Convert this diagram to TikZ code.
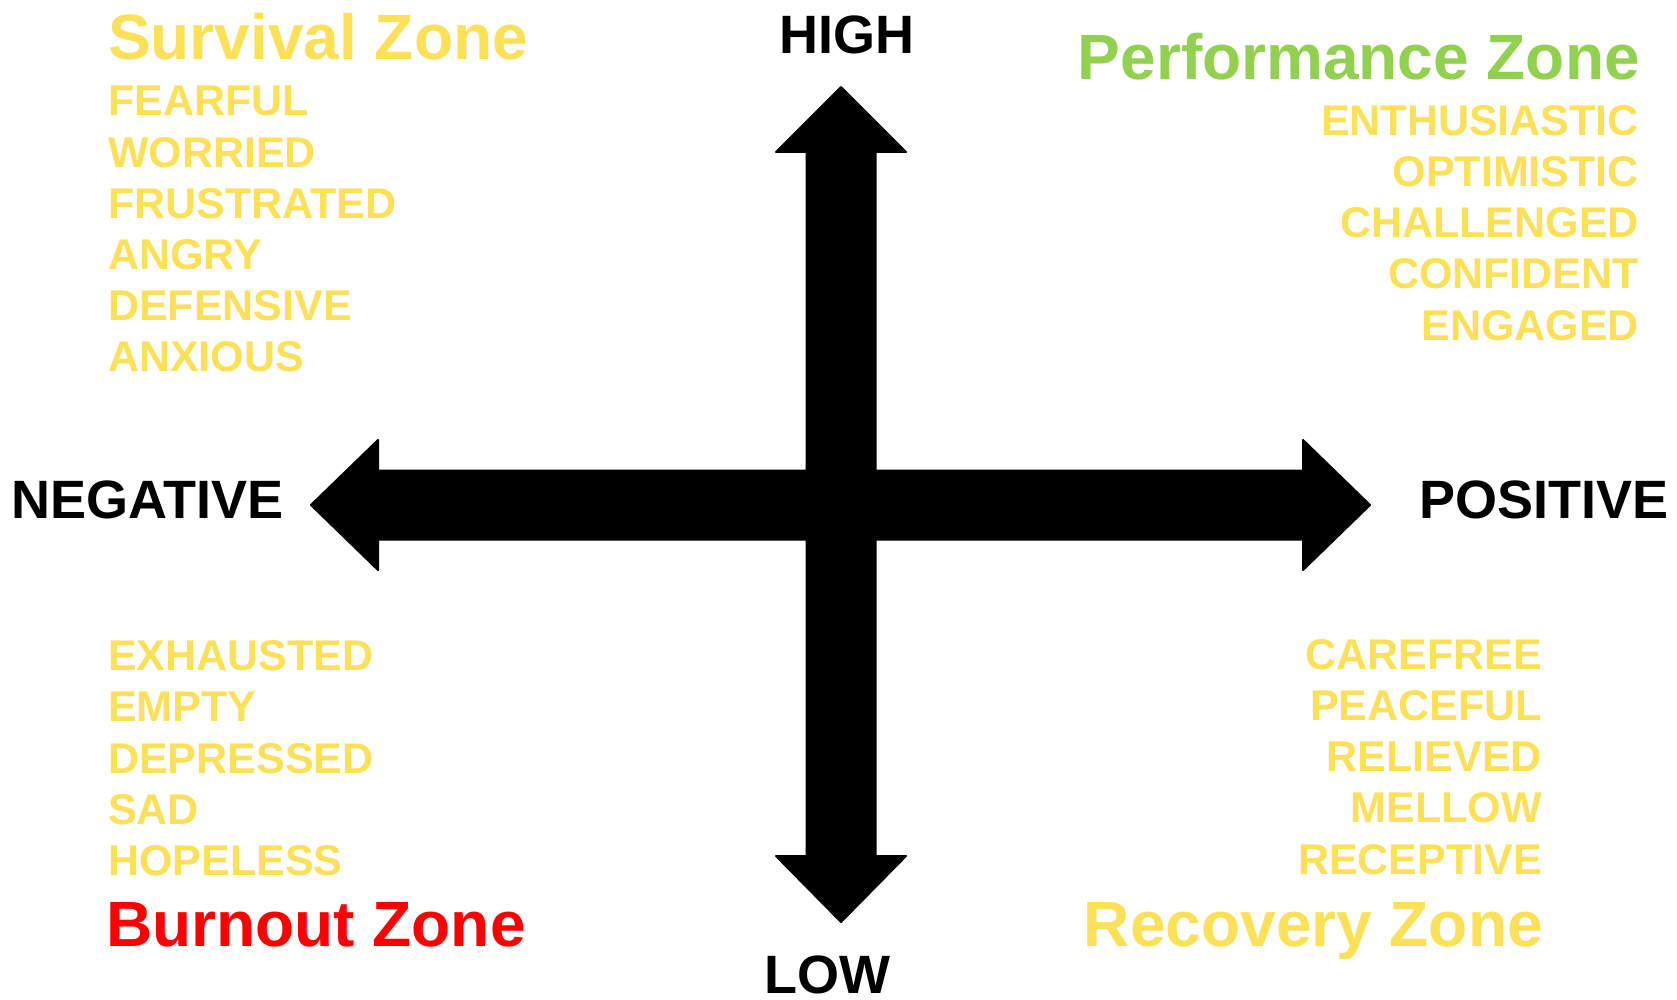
\documentclass[tikz,border=0pt]{standalone}
\usepackage{fontspec}
\setmainfont{Liberation Sans}
\definecolor{zyellow}{HTML}{FBE058}
\definecolor{zgreen}{HTML}{92D050}
\definecolor{zred}{HTML}{FF0000}
\tikzset{
  axislabel/.style={inner sep=0pt, font=\fontsize{54}{60}\selectfont\bfseries, text=black},
  word/.style={inner sep=0pt, font=\fontsize{43}{50}\selectfont\bfseries, text=zyellow},
  zone/.style={inner sep=0pt, font=\fontsize{64}{70}\selectfont\bfseries},
  cross/.style={fill=black, draw=black, line width=2pt, line join=round}
}
\begin{document}
\begin{tikzpicture}[x=1pt,y=-1pt]
\useasboundingbox (0,0) rectangle (1677,1000);
% cross of double arrows
\coordinate (ctr) at (841,505);
\draw[cross] (841,87) -- (906,152) -- (875.5,152) -- (875.5,470.5) -- (1303,470.5) -- (1303,440)
  -- (1370,505) -- (1303,570) -- (1303,539.5) -- (875.5,539.5) -- (875.5,856) -- (906,856)
  -- (841,922) -- (776,856) -- (806.5,856) -- (806.5,539.5) -- (378,539.5) -- (378,570)
  -- (311,505) -- (378,440) -- (378,470.5) -- (806.5,470.5) -- (806.5,152) -- (776,152) -- cycle;
% axis labels
\node[axislabel, anchor=base] (high) at (846.5,54) {HIGH};
\node[axislabel, anchor=base] (low) at (827.5,993) {LOW};
\node[axislabel, anchor=base west] (neg) at (11,518.3) {NEGATIVE};
\node[axislabel, anchor=base west] (pos) at (1419,518.3) {POSITIVE};
% Survival zone
\node[zone, text=zyellow, anchor=base west] (survival) at (108,60) {Survival Zone};
\node[word, anchor=base west] (s1) at (108,116) {FEARFUL};
\node[word, anchor=base west] (s2) at (108,167.3) {WORRIED};
\node[word, anchor=base west] (s3) at (108,218.3) {FRUSTRATED};
\node[word, anchor=base west] (s4) at (108,269.3) {ANGRY};
\node[word, anchor=base west] (s5) at (108,320.5) {DEFENSIVE};
\node[word, anchor=base west] (s6) at (108,371) {ANXIOUS};
% Performance zone
\node[zone, text=zgreen, anchor=base east] (perf) at (1640,79.3) {Performance Zone};
\node[word, anchor=base east] (p1) at (1639,136) {ENTHUSIASTIC};
\node[word, anchor=base east] (p2) at (1639,186.7) {OPTIMISTIC};
\node[word, anchor=base east] (p3) at (1639,237.7) {CHALLENGED};
\node[word, anchor=base east] (p4) at (1639,288.7) {CONFIDENT};
\node[word, anchor=base east] (p5) at (1639,340) {ENGAGED};
% Burnout zone
\node[word, anchor=base west] (b1) at (108,670) {EXHAUSTED};
\node[word, anchor=base west] (b2) at (108,721) {EMPTY};
\node[word, anchor=base west] (b3) at (108,773.3) {DEPRESSED};
\node[word, anchor=base west] (b4) at (108,824) {SAD};
\node[word, anchor=base west] (b5) at (108,875) {HOPELESS};
\node[zone, text=zred, anchor=base west] (burnout) at (106,946.7) {Burnout Zone};
% Recovery zone
\node[word, anchor=base east] (r1) at (1542,669) {CAREFREE};
\node[word, anchor=base east] (r2) at (1542,720) {PEACEFUL};
\node[word, anchor=base east] (r3) at (1542,771) {RELIEVED};
\node[word, anchor=base east] (r4) at (1542,822.7) {MELLOW};
\node[word, anchor=base east] (r5) at (1542,874) {RECEPTIVE};
\node[zone, text=zyellow, anchor=base east] (recovery) at (1543,946) {Recovery Zone};
\end{tikzpicture}
\end{document}
